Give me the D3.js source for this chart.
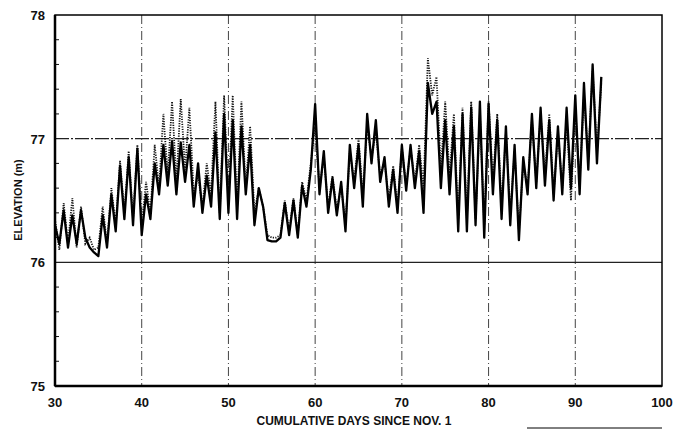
<!DOCTYPE html>
<html>
<head>
<meta charset="utf-8">
<script src="https://cdn.jsdelivr.net/npm/d3@7"></script>
<style>
  body { margin: 0; background: #fff; }
  text { font-family: "Liberation Sans", Arial, sans-serif; font-weight: bold; fill: #111; }
</style>
</head>
<body>
<div id="chart"></div>
<script>
// sampling every half day, day 30 to day 93
const dayStart = 30
const dayStep = 0.5

// solid trace (m)
const solidElev = [
  76.30, 76.15, 76.42, 76.12, 76.38, 76.15, 76.42, 76.20, 76.12, 76.08,
  76.05, 76.38, 76.12, 76.55, 76.25, 76.78, 76.35, 76.85, 76.30, 76.92,
  76.22, 76.55, 76.35, 76.80, 76.55, 76.95, 76.62, 76.98, 76.55, 76.97,
  76.65, 76.95, 76.45, 76.80, 76.40, 76.70, 76.45, 77.05, 76.35, 77.20,
  76.40, 77.15, 76.35, 77.10, 76.55, 76.95, 76.30, 76.60, 76.45, 76.18,
  76.17, 76.17, 76.20, 76.48, 76.22, 76.50, 76.20, 76.62, 76.45, 76.75,
  77.28, 76.55, 76.90, 76.40, 76.68, 76.38, 76.65, 76.25, 76.95, 76.60,
  76.95, 76.45, 77.20, 76.80, 77.15, 76.65, 76.85, 76.45, 76.75, 76.40,
  76.95, 76.58, 76.95, 76.60, 76.90, 76.40, 77.45, 77.20, 77.30, 76.60,
  77.15, 76.55, 77.10, 76.25, 77.20, 76.25, 77.25, 76.30, 77.30, 76.20,
  77.28, 76.55, 77.15, 76.35, 77.10, 76.30, 76.95, 76.18, 76.85, 76.55,
  77.20, 76.60, 77.25, 76.62, 77.15, 76.50, 77.10, 76.55, 77.25, 76.60,
  77.35, 76.55, 77.45, 76.75, 77.60, 76.80, 77.50
]

// dotted trace (m)
const dottedElev = [
  76.35, 76.10, 76.48, 76.15, 76.52, 76.12, 76.45, 76.15, 76.20, 76.10,
  76.12, 76.45, 76.15, 76.60, 76.30, 76.82, 76.40, 76.90, 76.35, 76.95,
  76.30, 76.65, 76.40, 76.95, 76.60, 77.20, 76.70, 77.30, 76.65, 77.32,
  76.75, 77.25, 76.55, 76.70, 76.45, 76.80, 76.55, 77.30, 76.40, 77.35,
  76.50, 77.35, 76.45, 77.30, 76.60, 77.10, 76.40, 76.60, 76.45, 76.22,
  76.20, 76.20, 76.22, 76.50, 76.25, 76.52, 76.22, 76.65, 76.50, 76.80,
  77.10, 76.60, 76.85, 76.45, 76.70, 76.42, 76.62, 76.30, 76.90, 76.65,
  77.00, 76.55, 77.10, 76.85, 77.05, 76.70, 76.82, 76.50, 76.78, 76.45,
  76.92, 76.62, 76.92, 76.65, 76.95, 76.60, 77.65, 77.35, 77.50, 76.75,
  77.30, 76.70, 77.20, 76.35, 77.25, 76.35, 77.30, 76.35, 77.20, 76.30,
  77.30, 76.65, 77.20, 76.45, 77.05, 76.40, 76.90, 76.25, 76.80, 76.60,
  77.15, 76.65, 77.20, 76.70, 77.20, 76.55, 77.05, 76.60, 77.15, 76.50,
  77.25, 76.65, 77.35, 76.85, 77.55, 76.90, 77.45
]

const xTicks = [30, 40, 50, 60, 70, 80, 90, 100]
const yTicks = [75, 76, 77, 78]
const yMinor = [75.2, 75.4, 75.6, 75.8, 76.2, 76.4, 76.6, 76.8, 77.2, 77.4, 77.6, 77.8]

const w = 676
const h = 430
const padL = 55, padR = 662, padT = 15, padB = 386

const svg = d3.select("#chart").append("svg")
    .attr("width", w)
    .attr("height", h)

const x = d3.scaleLinear().domain([30, 100]).range([padL, padR])
const y = d3.scaleLinear().domain([75, 78]).range([padB, padT])

// grid lines
svg.selectAll(".vgrid")
    .data(xTicks.filter(d => d > 30 && d < 100))
    .enter().append("line")
    .attr("x1", d => x(d)).attr("x2", d => x(d))
    .attr("y1", padT).attr("y2", padB)
    .attr("stroke", "#444")
    .attr("stroke-width", 1)
    .attr("stroke-dasharray", "9,3,1,3")

svg.append("line")
    .attr("x1", padL).attr("x2", padR)
    .attr("y1", y(77)).attr("y2", y(77))
    .attr("stroke", "#222").attr("stroke-width", 1.2)
    .attr("stroke-dasharray", "14,2,2,2")

svg.append("line")
    .attr("x1", padL).attr("x2", padR)
    .attr("y1", y(76)).attr("y2", y(76))
    .attr("stroke", "#222").attr("stroke-width", 1.2)

// minor ticks on left axis
svg.selectAll(".minor")
    .data(yMinor)
    .enter().append("line")
    .attr("x1", padL).attr("x2", padL + 4)
    .attr("y1", d => y(d)).attr("y2", d => y(d))
    .attr("stroke", "#111").attr("stroke-width", 1)

// data
const pts = (arr) => arr.map((v, i) => [dayStart + i * dayStep, v])
const line = d3.line().x(d => x(d[0])).y(d => y(d[1]))

svg.append("path")
    .datum(pts(dottedElev))
    .attr("d", line)
    .attr("fill", "none")
    .attr("stroke", "#111")
    .attr("stroke-width", 1.8)
    .attr("stroke-dasharray", "1.2,1.3")

svg.append("path")
    .datum(pts(solidElev))
    .attr("d", line)
    .attr("fill", "none")
    .attr("stroke", "#000")
    .attr("stroke-width", 2.3)
    .attr("stroke-linejoin", "round")

// frame
svg.append("rect")
    .attr("x", padL).attr("y", padT)
    .attr("width", padR - padL).attr("height", padB - padT)
    .attr("fill", "none").attr("stroke", "#000").attr("stroke-width", 1.5)
svg.append("line")
    .attr("x1", padL).attr("x2", padR)
    .attr("y1", padB).attr("y2", padB)
    .attr("stroke", "#000").attr("stroke-width", 2.5)
svg.append("line")
    .attr("x1", padL).attr("x2", padL)
    .attr("y1", padT).attr("y2", padB)
    .attr("stroke", "#000").attr("stroke-width", 2.5)

// tick labels
svg.selectAll(".xlab")
    .data(xTicks)
    .enter().append("text")
    .attr("x", d => x(d))
    .attr("y", padB + 21)
    .attr("text-anchor", "middle")
    .attr("font-size", 13)
    .text(d => d)

svg.selectAll(".ylab")
    .data(yTicks)
    .enter().append("text")
    .attr("x", padL - 10)
    .attr("y", d => y(d) + 5)
    .attr("text-anchor", "end")
    .attr("font-size", 13)
    .text(d => d)

// axis titles
svg.append("text")
    .attr("x", 354)
    .attr("y", 425)
    .attr("text-anchor", "middle")
    .attr("font-size", 12)
    .text("CUMULATIVE DAYS SINCE NOV. 1")

svg.append("text")
    .attr("transform", "translate(22,200) rotate(-90)")
    .attr("text-anchor", "middle")
    .attr("font-size", 11)
    .text("ELEVATION (m)")

// short rule at the bottom right
svg.append("line")
    .attr("x1", 527).attr("x2", 662)
    .attr("y1", 428).attr("y2", 428)
    .attr("stroke", "#000").attr("stroke-width", 1)
</script>
</body>
</html>
